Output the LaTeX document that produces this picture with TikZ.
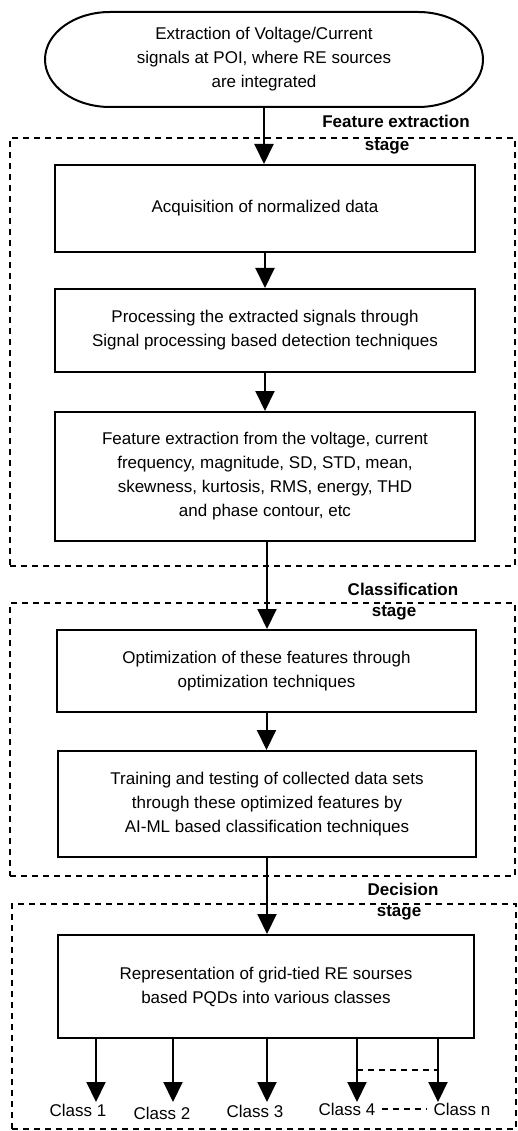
\documentclass[tikz,border=0pt]{standalone}
\usepackage{fontspec}
\setmainfont{Liberation Sans}
\usetikzlibrary{arrows.meta,calc}
\begin{document}
\begin{tikzpicture}[x=1pt,y=-1pt,
  every node/.style={font=\fontsize{17}{24}\selectfont},
  procbox/.style={draw,line width=2pt,align=center,inner sep=0pt,fill=white},
  startbox/.style={align=center,inner sep=0pt},
  stagebox/.style={draw,line width=2pt,dash pattern=on 6pt off 5pt,inner sep=0pt},
  stagelabel/.style={font=\fontsize{17}{24}\selectfont\bfseries,inner sep=0pt},
  classlabel/.style={inner sep=0pt},
  arr/.style={line width=2pt,-{Triangle[width=19pt,length=20pt]}},
  dashline/.style={line width=2pt,dash pattern=on 6pt off 5pt}]
\fill[white] (0,0) rectangle (518,1131);
\useasboundingbox (0,0) rectangle (518,1131);

% stage frames
\node[stagebox,minimum width=505pt,minimum height=428pt] (s1) at (262.5,352) {};
\node[stagebox,minimum width=505pt,minimum height=273pt] (s2) at (262.5,739.5) {};
\node[stagebox,minimum width=504pt,minimum height=225pt] (s3) at (264,1016.5) {};

% stage labels
\node[stagelabel] (l1a) at (396,121) {Feature extraction};
\node[stagelabel] (l1b) at (387,147) {stage};
\node[stagelabel] (l2a) at (403,589) {Classification};
\node[stagelabel] (l2b) at (394,613) {stage};
\node[stagelabel] (l3a) at (403,889) {Decision};
\node[stagelabel] (l3b) at (399,913) {stage};

% start (stadium with elliptic ends)
\node[startbox,minimum width=438pt,minimum height=95pt] (e) at (264,59.5)
  {Extraction of Voltage/Current\\signals at POI, where RE sources\\are integrated};
\draw[line width=2pt]
  (110,12) -- (418,12)
  .. controls (453.9,12) and (483,33.3) .. (483,59.5)
  .. controls (483,85.7) and (453.9,107) .. (418,107)
  -- (110,107)
  .. controls (74.1,107) and (45,85.7) .. (45,59.5)
  .. controls (45,33.3) and (74.1,12) .. (110,12) -- cycle;

% process boxes
\node[procbox,minimum width=420pt,minimum height=87pt] (b1) at (265,208.5)
  {Acquisition of normalized data};
\node[procbox,minimum width=420pt,minimum height=83pt] (b2) at (265,330.5)
  {Processing the extracted signals through\\Signal processing based detection techniques};
\node[procbox,minimum width=420pt,minimum height=129pt] (b3) at (265,476.5)
  {Feature extraction from the voltage, current\\frequency, magnitude, SD, STD, mean,\\skewness, kurtosis, RMS, energy, THD\\and phase contour, etc};
\node[procbox,minimum width=419pt,minimum height=82pt] (b4) at (266.5,671)
  {Optimization of these features through\\optimization techniques};
\node[procbox,minimum width=418pt,minimum height=106pt] (b5) at (267,804)
  {Training and testing of collected data sets\\through these optimized features by\\AI-ML based classification techniques};
\node[procbox,minimum width=416pt,minimum height=103pt] (b6) at (266,986.5)
  {Representation of grid-tied RE sourses\\based PQDs into various classes};

% main arrows
\draw[arr] (e.south) -- (e.south |- b1.north);
\draw[arr] (b1.south) -- (b1.south |- b2.north);
\draw[arr] (b2.south) -- (b2.south |- b3.north);
\draw[arr] ([xshift=2pt]b3.south) -- ([xshift=2pt]b3.south |- b4.north);
\draw[arr] (b4.south) -- (b4.south |- b5.north);
\draw[arr] (b5.south) -- (b5.south |- b6.north);

% class labels
\node[classlabel] (c1) at (78,1110) {Class 1};
\node[classlabel] (c2) at (162,1113) {Class 2};
\node[classlabel] (c3) at (255,1111) {Class 3};
\node[classlabel] (c4) at (347,1109) {Class 4};
\node[classlabel] (cn) at (462,1109) {Class n};

% class arrow ends
\coordinate (t1) at (96,1102);
\coordinate (t2) at (173,1102);
\coordinate (t3) at (267,1102);
\coordinate (t4) at (357,1102);
\coordinate (tn) at (438,1102);
\foreach \t in {t1,t2,t3,t4,tn}
  \draw[arr] (\t |- b6.south) -- (\t);

\coordinate (d4) at (357,1070);
\coordinate (dn) at (438,1070);
\draw[dashline] (d4) -- (dn);
\draw[dashline] ([xshift=6pt]c4.east) -- ([xshift=-6pt]cn.west);
\end{tikzpicture}
\end{document}
